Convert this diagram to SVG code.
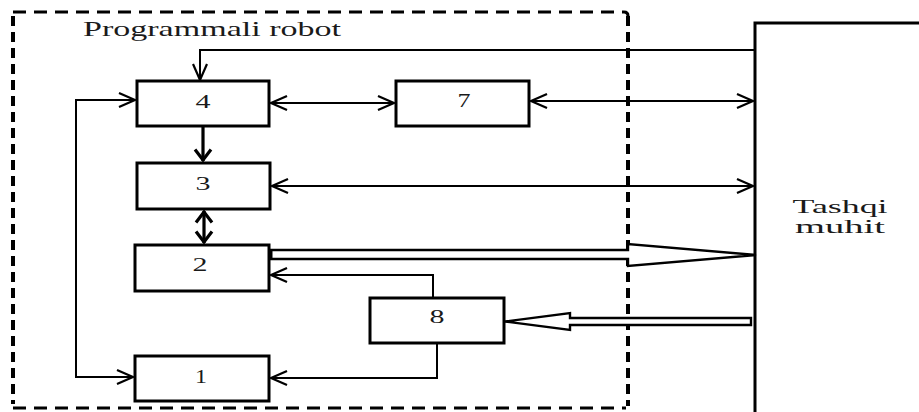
<svg xmlns="http://www.w3.org/2000/svg" width="919" height="412" viewBox="0 0 919 412">
  <style>
    .box { fill: #fff; stroke: #000; stroke-width: 3; }
    .lbl { font-family: "Liberation Serif", "Times New Roman", serif; font-size: 19px; fill: #1a1a1a; text-anchor: middle; }
    .title { font-family: "Liberation Serif", "Times New Roman", serif; font-size: 22px; fill: #1a1a1a; }
    .wire { fill: none; stroke: #000; stroke-width: 2; }
    .thick { fill: none; stroke: #000; stroke-width: 3.2; }
    .hollow { fill: #fff; stroke: #000; stroke-width: 2.4; stroke-linejoin: miter; }
    .dash-h { stroke: #000; stroke-width: 3; stroke-dasharray: 13 8; fill: none; }
    .dash-v { stroke: #000; stroke-width: 4; stroke-dasharray: 10 6; fill: none; }
  </style>
  <defs>
    <marker id="open" viewBox="0 0 18 16" refX="17" refY="8" markerWidth="18" markerHeight="16" markerUnits="userSpaceOnUse" orient="auto-start-reverse">
      <path d="M1,1 L17,8 L1,15" fill="none" stroke="#000" stroke-width="2.2"/>
    </marker>
    <marker id="openBold" viewBox="0 0 14 20" refX="13" refY="10" markerWidth="14" markerHeight="20" markerUnits="userSpaceOnUse" orient="auto-start-reverse">
      <path d="M1.5,2 L12,10 L1.5,18" fill="none" stroke="#000" stroke-width="3.2"/>
    </marker>
  </defs>

  <rect width="919" height="412" fill="#fff"/>

  <!-- robot boundary (dashed) -->
  <g id="robot-boundary">
    <path class="dash-h" d="M13,12 H624 Q628,12 628,16"/>
    <path class="dash-h" d="M13,408 H626"/>
    <path class="dash-v" d="M13,16 V404"/>
    <path class="dash-v" d="M628,16 V406"/>
    <text class="title" x="83" y="36" textLength="258" lengthAdjust="spacingAndGlyphs">Programmali robot</text>
  </g>

  <!-- external environment -->
  <g id="environment">
    <path d="M755,420 V23 H925" fill="none" stroke="#000" stroke-width="3"/>
    <text class="lbl" x="840" y="213" font-size="22" textLength="95" lengthAdjust="spacingAndGlyphs">Tashqi</text>
    <text class="lbl" x="840" y="233" font-size="22" textLength="90" lengthAdjust="spacingAndGlyphs">muhit</text>
  </g>

  <g id="node-4">
    <rect class="box" x="137" y="81" width="132" height="45"/>
    <text class="lbl" x="203" y="108" textLength="15" lengthAdjust="spacingAndGlyphs">4</text>
  </g>
  <g id="node-7">
    <rect class="box" x="396" y="81" width="133" height="45"/>
    <text class="lbl" x="464" y="107" textLength="13" lengthAdjust="spacingAndGlyphs">7</text>
  </g>
  <g id="node-3">
    <rect class="box" x="137" y="163" width="133" height="46"/>
    <text class="lbl" x="203" y="190" textLength="15" lengthAdjust="spacingAndGlyphs">3</text>
  </g>
  <g id="node-2">
    <rect class="box" x="135" y="245" width="134" height="46"/>
    <text class="lbl" x="200" y="271" textLength="15" lengthAdjust="spacingAndGlyphs">2</text>
  </g>
  <g id="node-1">
    <rect class="box" x="135" y="356" width="134" height="45"/>
    <text class="lbl" x="201" y="383" textLength="12" lengthAdjust="spacingAndGlyphs">1</text>
  </g>
  <g id="node-8">
    <rect class="box" x="370" y="298" width="134" height="45"/>
    <text class="lbl" x="437" y="323" textLength="15" lengthAdjust="spacingAndGlyphs">8</text>
  </g>

  <g id="connectors">
    <!-- environment feedback into 4 -->
    <path class="wire" d="M755,50 H200 V80" marker-end="url(#open)"/>
    <!-- 4 <-> 7 -->
    <path class="wire" d="M271,103 H394" marker-start="url(#open)" marker-end="url(#open)"/>
    <!-- 7 <-> environment -->
    <path class="wire" d="M531,101 H753" marker-start="url(#open)" marker-end="url(#open)"/>
    <!-- 3 <-> environment -->
    <path class="wire" d="M272,186 H753" marker-start="url(#open)" marker-end="url(#open)"/>
    <!-- 4 -> 3 -->
    <path class="thick" d="M203,127 V161" marker-end="url(#openBold)"/>
    <!-- 3 <-> 2 -->
    <path class="thick" d="M204,211 V243" marker-start="url(#openBold)" marker-end="url(#openBold)"/>
    <!-- left loop into 4 and 1 -->
    <path class="wire" d="M135,100 H76 V377 H133" marker-start="url(#open)" marker-end="url(#open)"/>
    <!-- 8 -> 2 -->
    <path class="wire" d="M433,297 V275 H271" marker-end="url(#open)"/>
    <!-- 8 -> 1 -->
    <path class="wire" d="M437,344 V378 H271" marker-end="url(#open)"/>
    <!-- 2 => environment (hollow) -->
    <path class="hollow" d="M270,250 H628 V244 L756,255 L628,266 V259 H270"/>
    <path d="M271,250 V259" stroke="#000" stroke-width="3"/>
    <!-- environment => 8 (hollow) -->
    <path class="hollow" d="M751,318 H570 V313 L505,321.5 L570,330 V325 H751 Z"/>
  </g>
</svg>
